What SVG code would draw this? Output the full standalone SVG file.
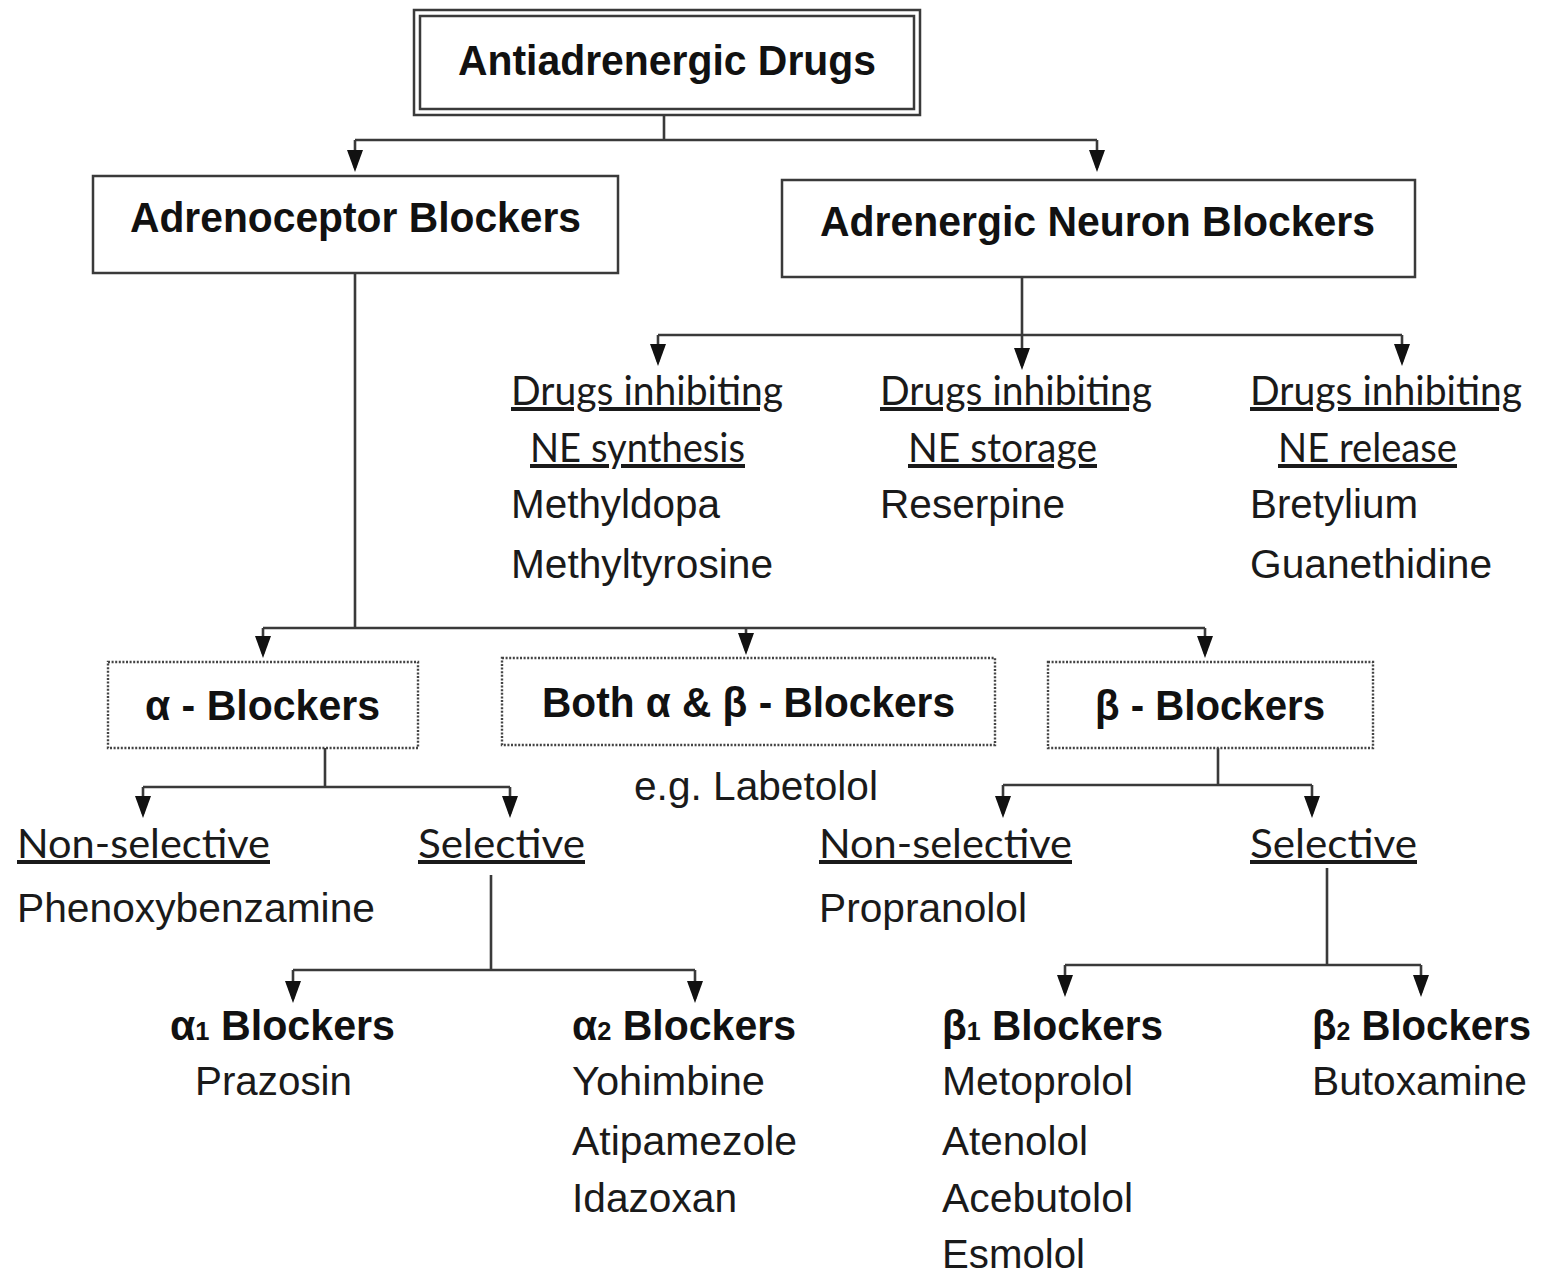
<svg xmlns="http://www.w3.org/2000/svg" width="1548" height="1273" viewBox="0 0 1548 1273">
<style>
.bg{fill:#ffffff}
.box{fill:#ffffff;stroke:#3a3a3a;stroke-width:2.5}
.dbox{fill:#ffffff;stroke:#444444;stroke-width:2.4;stroke-dasharray:2 1.6}
.b{font-family:"Liberation Sans",Arial,sans-serif;font-weight:bold;font-size:42px;fill:#111111}
.r{font-family:"Liberation Sans",Arial,sans-serif;font-size:40px;fill:#1a1a1a}
.c{font-family:Lato,"Open Sans",sans-serif;font-size:40px;fill:#1a1a1a;text-decoration:underline}
.sub{font-size:26px}
.ln{fill:none;stroke:#3a3a3a;stroke-width:2.6}
.ar{fill:none;stroke:#3a3a3a;stroke-width:2.6;marker-end:url(#arr)}
</style>
<defs>
<marker id="arr" viewBox="0 0 22 16" refX="18" refY="8" markerWidth="22" markerHeight="16" markerUnits="userSpaceOnUse" orient="auto">
<path d="M0,0 L22,8 L0,16 Z" fill="#111111"/>
</marker>
</defs>
<rect class="bg" x="0" y="0" width="1548" height="1273"/>

<g id="connectors">
<path class="ln" d="M664,115 V140 M355,140 H1097"/>
<path class="ar" d="M355,140 V168"/>
<path class="ar" d="M1097,140 V168"/>
<path class="ln" d="M1022,277 V335 M658,335 H1402"/>
<path class="ar" d="M658,335 V362"/>
<path class="ar" d="M1022,335 V366"/>
<path class="ar" d="M1402,335 V362"/>
<path class="ln" d="M355,273 V628 M263,628 H1205"/>
<path class="ar" d="M263,628 V654"/>
<path class="ar" d="M746,628 V651"/>
<path class="ar" d="M1205,628 V654"/>
<path class="ln" d="M325,748 V787 M143,787 H510"/>
<path class="ar" d="M143,787 V814"/>
<path class="ar" d="M510,787 V814"/>
<path class="ln" d="M491,875 V970 M293,970 H695"/>
<path class="ar" d="M293,970 V999"/>
<path class="ar" d="M695,970 V999"/>
<path class="ln" d="M1218,748 V785 M1003,785 H1312"/>
<path class="ar" d="M1003,785 V814"/>
<path class="ar" d="M1312,785 V814"/>
<path class="ln" d="M1327,868 V965 M1065,965 H1421"/>
<path class="ar" d="M1065,965 V993"/>
<path class="ar" d="M1421,965 V993"/>
</g>

<g id="antiadrenergic">
<rect class="box" x="414" y="10" width="506" height="105"/>
<rect class="box" x="420" y="16" width="494" height="93"/>
<text class="b" x="458" y="75" textLength="418" lengthAdjust="spacingAndGlyphs">Antiadrenergic Drugs</text>
</g>

<g id="adrenoceptor">
<rect class="box" x="93" y="176" width="525" height="97"/>
<text class="b" x="130" y="232" textLength="451" lengthAdjust="spacingAndGlyphs">Adrenoceptor Blockers</text>
</g>

<g id="neuron">
<rect class="box" x="782" y="180" width="633" height="97"/>
<text class="b" x="820" y="236" textLength="555" lengthAdjust="spacingAndGlyphs">Adrenergic Neuron Blockers</text>
</g>

<g id="synthesis">
<text class="c" x="511" y="405" textLength="272" lengthAdjust="spacingAndGlyphs">Drugs inhibiting</text>
<text class="c" x="530" y="462" textLength="215" lengthAdjust="spacingAndGlyphs">NE synthesis</text>
<text class="r" x="511" y="518" textLength="209" lengthAdjust="spacingAndGlyphs">Methyldopa</text>
<text class="r" x="511" y="578" textLength="262" lengthAdjust="spacingAndGlyphs">Methyltyrosine</text>
</g>

<g id="storage">
<text class="c" x="880" y="405" textLength="272" lengthAdjust="spacingAndGlyphs">Drugs inhibiting</text>
<text class="c" x="908" y="462" textLength="189" lengthAdjust="spacingAndGlyphs">NE storage</text>
<text class="r" x="880" y="518" textLength="185" lengthAdjust="spacingAndGlyphs">Reserpine</text>
</g>

<g id="release">
<text class="c" x="1250" y="405" textLength="272" lengthAdjust="spacingAndGlyphs">Drugs inhibiting</text>
<text class="c" x="1278" y="462" textLength="179" lengthAdjust="spacingAndGlyphs">NE release</text>
<text class="r" x="1250" y="518" textLength="168" lengthAdjust="spacingAndGlyphs">Bretylium</text>
<text class="r" x="1250" y="578" textLength="242" lengthAdjust="spacingAndGlyphs">Guanethidine</text>
</g>

<g id="alpha">
<rect class="dbox" x="108" y="662" width="310" height="86"/>
<text class="b" x="145" y="720" textLength="235" lengthAdjust="spacingAndGlyphs">α - Blockers</text>
</g>

<g id="both">
<rect class="dbox" x="502" y="658" width="493" height="87"/>
<text class="b" x="542" y="717" textLength="413" lengthAdjust="spacingAndGlyphs">Both α &amp; β - Blockers</text>
<text class="r" x="634" y="800" textLength="244" lengthAdjust="spacingAndGlyphs">e.g. Labetolol</text>
</g>

<g id="beta">
<rect class="dbox" x="1048" y="662" width="325" height="86"/>
<text class="b" x="1095" y="720" textLength="230" lengthAdjust="spacingAndGlyphs">β - Blockers</text>
</g>

<g id="alpha-nonselective">
<text class="c" x="17" y="858" textLength="253" lengthAdjust="spacingAndGlyphs">Non-selective</text>
<text class="r" x="17" y="922" textLength="358" lengthAdjust="spacingAndGlyphs">Phenoxybenzamine</text>
</g>

<g id="alpha-selective">
<text class="c" x="418" y="858" textLength="167" lengthAdjust="spacingAndGlyphs">Selective</text>
</g>

<g id="alpha1">
<text class="b" x="170" y="1040" textLength="225" lengthAdjust="spacingAndGlyphs">α<tspan class="sub">1</tspan> Blockers</text>
<text class="r" x="195" y="1095" textLength="157" lengthAdjust="spacingAndGlyphs">Prazosin</text>
</g>

<g id="alpha2">
<text class="b" x="572" y="1040" textLength="224" lengthAdjust="spacingAndGlyphs">α<tspan class="sub">2</tspan> Blockers</text>
<text class="r" x="572" y="1095" textLength="193" lengthAdjust="spacingAndGlyphs">Yohimbine</text>
<text class="r" x="572" y="1155" textLength="225" lengthAdjust="spacingAndGlyphs">Atipamezole</text>
<text class="r" x="572" y="1212" textLength="165" lengthAdjust="spacingAndGlyphs">Idazoxan</text>
</g>

<g id="beta-nonselective">
<text class="c" x="819" y="858" textLength="253" lengthAdjust="spacingAndGlyphs">Non-selective</text>
<text class="r" x="819" y="922" textLength="208" lengthAdjust="spacingAndGlyphs">Propranolol</text>
</g>

<g id="beta-selective">
<text class="c" x="1250" y="858" textLength="167" lengthAdjust="spacingAndGlyphs">Selective</text>
</g>

<g id="beta1">
<text class="b" x="942" y="1040" textLength="221" lengthAdjust="spacingAndGlyphs">β<tspan class="sub">1</tspan> Blockers</text>
<text class="r" x="942" y="1095" textLength="191" lengthAdjust="spacingAndGlyphs">Metoprolol</text>
<text class="r" x="942" y="1155" textLength="146" lengthAdjust="spacingAndGlyphs">Atenolol</text>
<text class="r" x="942" y="1212" textLength="191" lengthAdjust="spacingAndGlyphs">Acebutolol</text>
<text class="r" x="942" y="1268" textLength="143" lengthAdjust="spacingAndGlyphs">Esmolol</text>
</g>

<g id="beta2">
<text class="b" x="1312" y="1040" textLength="219" lengthAdjust="spacingAndGlyphs">β<tspan class="sub">2</tspan> Blockers</text>
<text class="r" x="1312" y="1095" textLength="215" lengthAdjust="spacingAndGlyphs">Butoxamine</text>
</g>
</svg>
